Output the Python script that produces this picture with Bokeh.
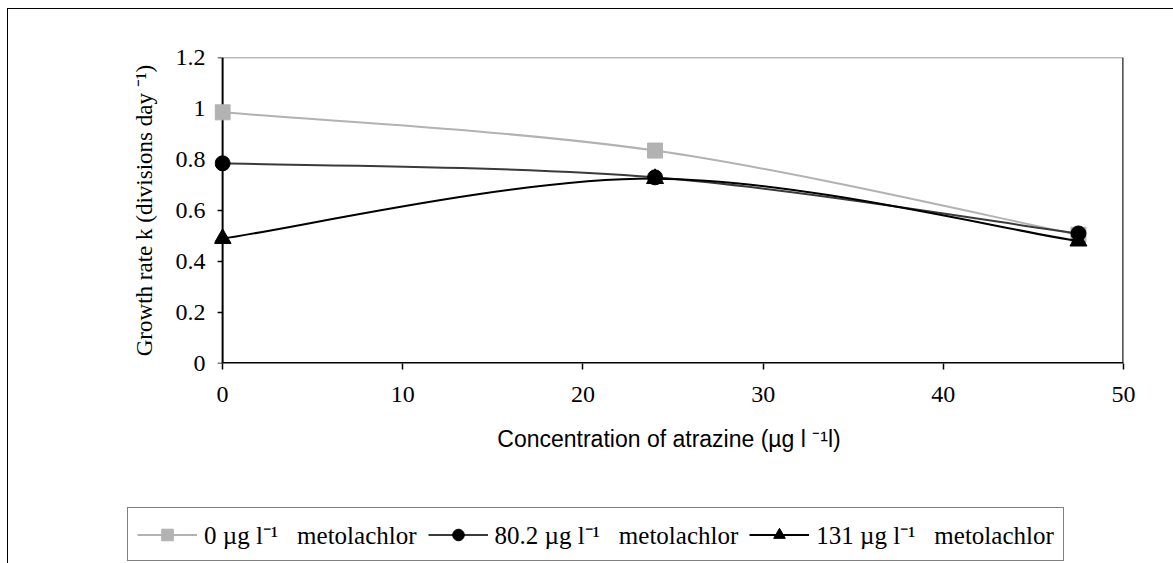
import numpy as np
from bokeh.plotting import figure
from bokeh.layouts import column
from bokeh.models import Range1d, FixedTicker, Legend, LegendItem, ColumnDataSource
from bokeh.embed import file_html
from bokeh.resources import INLINE

# ---- data ----
conc = [0, 24, 47.5]
series_labels = ["0 µg l⁻¹\u00a0\u00a0\u00a0metolachlor",
                 "80.2 µg l⁻¹\u00a0\u00a0\u00a0metolachlor",
                 "131 µg l⁻¹\u00a0\u00a0\u00a0metolachlor"]
k_0 = [0.985, 0.835, 0.505]
k_80 = [0.785, 0.73, 0.51]
k_131 = [0.49, 0.725, 0.48]
x_ticks = [0, 10, 20, 30, 40, 50]
y_ticks = [0, 0.2, 0.4, 0.6, 0.8, 1, 1.2]
y_tick_labels = ["0", "0.2", "0.4", "0.6", "0.8", "1", "1.2"]

SERIF = "Liberation Serif"
SANS = "Liberation Sans"


def smooth_segments(xs, ys):
    """Control points for a smoothed (Catmull-Rom style) line through the data."""
    n = len(xs)
    out = dict(x0=[], y0=[], x1=[], y1=[], cx0=[], cy0=[], cx1=[], cy1=[])
    for i in range(n - 1):
        a = max(i - 1, 0)
        d = min(i + 2, n - 1)
        out["x0"].append(xs[i]); out["y0"].append(ys[i])
        out["x1"].append(xs[i + 1]); out["y1"].append(ys[i + 1])
        out["cx0"].append(xs[i] + (xs[i + 1] - xs[a]) / 6)
        out["cy0"].append(ys[i] + (ys[i + 1] - ys[a]) / 6)
        out["cx1"].append(xs[i + 1] - (xs[d] - xs[i]) / 6)
        out["cy1"].append(ys[i + 1] - (ys[d] - ys[i]) / 6)
    return out


# small pad on the left so markers sitting on x=0 are not clipped
X_PAD = 0.45

p = figure(
    frame_width=909, frame_height=306,
    min_border_left=206, min_border_right=50, min_border_top=48, min_border_bottom=116,
    x_range=Range1d(x_ticks[0] - X_PAD, x_ticks[-1]), y_range=Range1d(y_ticks[0], y_ticks[-1]),
    output_backend="svg", toolbar_location=None,
)
p.frame_align = False
p.background_fill_color = "white"
p.border_fill_color = "white"
p.outline_line_color = None
p.xgrid.visible = False
p.ygrid.visible = False

# frame lines: top (grey), right, bottom and left axis lines
x_lo, x_hi = x_ticks[0], x_ticks[-1]
y_lo, y_hi = y_ticks[0], y_ticks[-1]
p.segment(x0=[x_lo], y0=[y_hi], x1=[x_hi], y1=[y_hi], line_color="#777777", line_width=1.5)
p.segment(x0=[x_hi], y0=[y_lo], x1=[x_hi], y1=[y_hi], line_color="#222222", line_width=2.5)
p.segment(x0=[x_lo], y0=[y_lo], x1=[x_hi], y1=[y_lo], line_color="black", line_width=3)
p.segment(x0=[x_lo], y0=[y_lo], x1=[x_lo], y1=[y_hi], line_color="black", line_width=2)
# y tick marks (pointing left from the x=0 axis line)
p.ray(x=[x_lo] * len(y_ticks), y=y_ticks, length=5, length_units="screen",
      angle=np.pi, line_color="black", line_width=1.5)

# axes
p.xaxis.ticker = FixedTicker(ticks=x_ticks)
p.yaxis.ticker = FixedTicker(ticks=y_ticks)
p.yaxis.major_label_overrides = dict(zip(y_ticks, y_tick_labels))
for ax in (p.xaxis[0], p.yaxis[0]):
    ax.axis_line_color = None
    ax.major_tick_line_color = "black"
    ax.major_tick_line_width = 1.5
    ax.major_tick_in = 0
    ax.minor_tick_line_color = None
    ax.major_label_text_font = SERIF
    ax.major_label_text_font_size = "24px"
    ax.major_label_text_color = "black"
    ax.axis_label_text_font_style = "normal"
    ax.axis_label_text_color = "black"
p.xaxis.major_tick_out = 6
p.yaxis.major_tick_line_color = None
p.yaxis.major_tick_out = 0
p.xaxis.major_label_standoff = 17
p.yaxis.major_label_standoff = 9
p.xaxis.axis_label = "Concentration of atrazine (µg l ⁻¹l)"
p.xaxis.axis_label_text_font = SANS
p.xaxis.axis_label_text_font_size = "23px"
p.xaxis.axis_label_standoff = 21
p.yaxis.axis_label = "Growth rate k (divisions day ⁻¹)"
p.yaxis.axis_label_text_font = SERIF
p.yaxis.axis_label_text_font_size = "23px"
p.yaxis.axis_label_standoff = 16

styles = [
    dict(vals=k_0, line="#B2B2B2", fill="#B2B2B2", marker="square", size=15),
    dict(vals=k_80, line="#3A3A3A", fill="black", marker="circle", size=15),
    dict(vals=k_131, line="black", fill="black", marker="triangle", size=17),
]

# second strip below the plot that carries the legend box
leg_fig = figure(
    width=1165, height=84, x_range=Range1d(-20, -10), y_range=Range1d(-20, -10),
    x_axis_type=None, y_axis_type=None, output_backend="svg", toolbar_location=None,
    min_border=0, min_border_left=0, min_border_right=0, min_border_top=0, min_border_bottom=0,
)
leg_fig.frame_align = False
leg_fig.outline_line_color = None
leg_fig.xgrid.visible = False
leg_fig.ygrid.visible = False
leg_fig.background_fill_color = "white"
leg_fig.border_fill_color = "white"

items = []
for lab, st in zip(series_labels, styles):
    seg = ColumnDataSource(smooth_segments(conc, st["vals"]))
    pts = ColumnDataSource(dict(x=conc, y=st["vals"]))
    line_kw = dict(x0="x0", y0="y0", x1="x1", y1="y1", cx0="cx0", cy0="cy0",
                   cx1="cx1", cy1="cy1", source=seg, line_color=st["line"], line_width=2)
    mark_kw = dict(x="x", y="y", source=pts, marker=st["marker"], size=st["size"],
                   fill_color=st["fill"], line_color=st["fill"])
    p.bezier(**line_kw)
    p.scatter(**mark_kw)
    # same series in the legend strip (its ranges keep them out of view)
    lb = leg_fig.bezier(**line_kw)
    ls = leg_fig.scatter(**mark_kw)
    items.append(LegendItem(label=lab, renderers=[lb, ls]))

legend = Legend(
    items=items, orientation="horizontal", location=(119, 2),
    label_text_font=SERIF, label_text_font_size="25px", label_text_color="black",
    border_line_color="black", border_line_width=1,
    background_fill_color="white", background_fill_alpha=1,
    glyph_width=60, glyph_height=29, label_height=29, label_standoff=7, spacing=11,
    padding=9, margin=0,
)
leg_fig.add_layout(legend, "center")

layout = column(p, leg_fig, spacing=0)
layout.styles = {"border-left": "1px solid #000000", "border-top": "1px solid #000000",
                 "margin-left": "7px", "margin-top": "8px"}

open("out.html", "w").write(file_html(layout, INLINE))
